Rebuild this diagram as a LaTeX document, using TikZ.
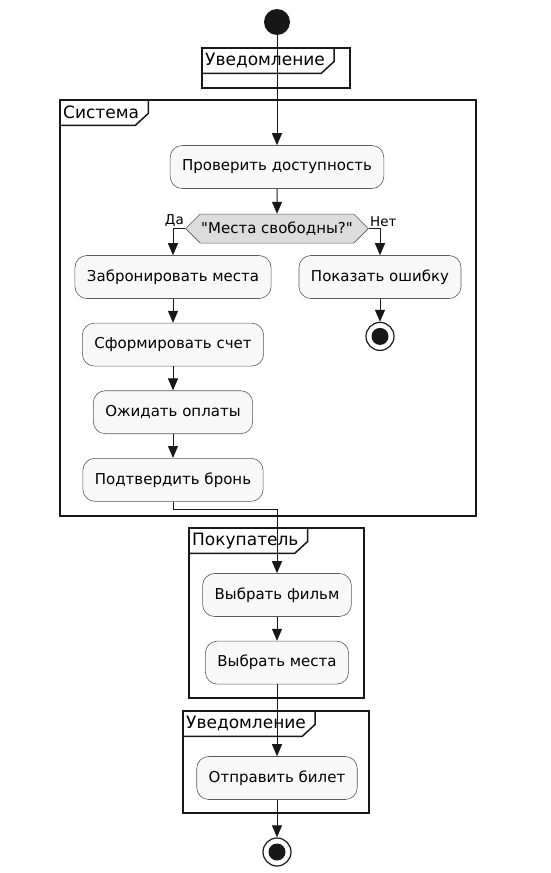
\documentclass[tikz,border=0pt]{standalone}
\usepackage{fontspec}
\setmainfont{DejaVu Sans}
\usetikzlibrary{positioning,shapes.symbols,arrows.meta}
\definecolor{actfill}{HTML}{F8F8F8}
\definecolor{condfill}{HTML}{DCDCDC}
\definecolor{ink}{HTML}{181818}
\definecolor{rim}{HTML}{5A5A5A}
\tikzset{
  act/.style={rectangle, rounded corners=12pt, minimum height=43pt, inner xsep=12pt, text centered, draw=rim, line width=0.6pt, fill=actfill, font=\fontsize{15}{18}\selectfont},
  cond/.style={signal, signal to=west and east, signal pointer angle=90, minimum height=29pt, inner xsep=1pt, draw=rim, line width=0.6pt, fill=condfill, font=\fontsize{15}{18}\selectfont},
  ini/.style={circle, fill=ink, minimum size=26pt, inner sep=0pt},
  fin/.style={circle, draw=ink, line width=1.2pt, fill=white, minimum size=28pt, inner sep=0pt, path picture={\fill[ink] (path picture bounding box.center) circle (8.5pt);}},
  ttl/.style={anchor=north west, inner xsep=3pt, inner ysep=0pt, minimum height=25pt, font=\fontsize{17}{20}\selectfont},
  lbl/.style={inner sep=1pt, font=\fontsize{13.5}{16}\selectfont},
  frm/.style={line width=1.5pt, draw=ink},
  flow/.style={->, draw=ink, line width=1pt},
  node distance=24pt,
  >={Triangle[length=12pt,width=10pt]}
}
% frame with a title tab: name, corner, opposite corner, title
\newcommand{\umlframe}[4]{%
  \draw[frm] #2 rectangle #3;
  \node[ttl] (#1) at #2 {#4};
  \draw[frm] ([xshift=6pt]#1.north east) -- ([xshift=6pt,yshift=12pt]#1.south east) -- ([xshift=-7pt]#1.south east) -- (#1.south west);
}

\begin{document}
\begin{tikzpicture}[x=1pt, y=-1pt]
	\useasboundingbox (0,0) rectangle (551,873);
	% frames
	\umlframe{ntop}{(202,48)}{(350,88)}{Уведомление}
	\umlframe{sys}{(60,100)}{(476,516)}{Система}
	\umlframe{buyer}{(189,528)}{(364,698)}{Покупатель}
	\umlframe{notify}{(183,711)}{(369,813)}{Уведомление}
	%
	\node[ini] (start) at (277,22) {};
	\node[act] (check) at (277,167) {Проверить доступность};
	\node[cond, below=25pt of check] (free) {\textquotedbl Места свободны?\textquotedbl};
	\node[act] (book) at (173,277) {Забронировать места};
	\node[act] (error) at (380,277) {Показать ошибку};
	\node[fin, below=23pt of error] (stopA) {};
	\node[act, below=of book] (bill) {Сформировать счет};
	\node[act, below=of bill] (wait) {Ожидать оплаты};
	\node[act, below=of wait] (confirm) {Подтвердить бронь};
	\node[act] (film) at (277,595) {Выбрать фильм};
	\node[act, below=of film] (seats) {Выбрать места};
	\node[act] (ticket) at (277,778) {Отправить билет};
	\node[fin] (stopB) at (277,852) {};
	%
	\draw[flow] (start) -- (check);
	\draw[flow] (check) -- (free);
	\draw[flow] (free.west) -| node[lbl, pos=0, anchor=south east] {Да} (book.north);
	\draw[flow] (free.east) -| node[lbl, pos=0, anchor=south west] {Нет} (error.north);
	\draw[flow] (error) -- (stopA);
	\draw[flow] (book) -- (bill);
	\draw[flow] (bill) -- (wait);
	\draw[flow] (wait) -- (confirm);
	\draw[flow] (confirm.south) -- ++(0,8) -| (film.north);
	\draw[flow] (film) -- (seats);
	\draw[flow] (seats) -- (ticket);
	\draw[flow] (ticket) -- (stopB);
\end{tikzpicture}
\end{document}
